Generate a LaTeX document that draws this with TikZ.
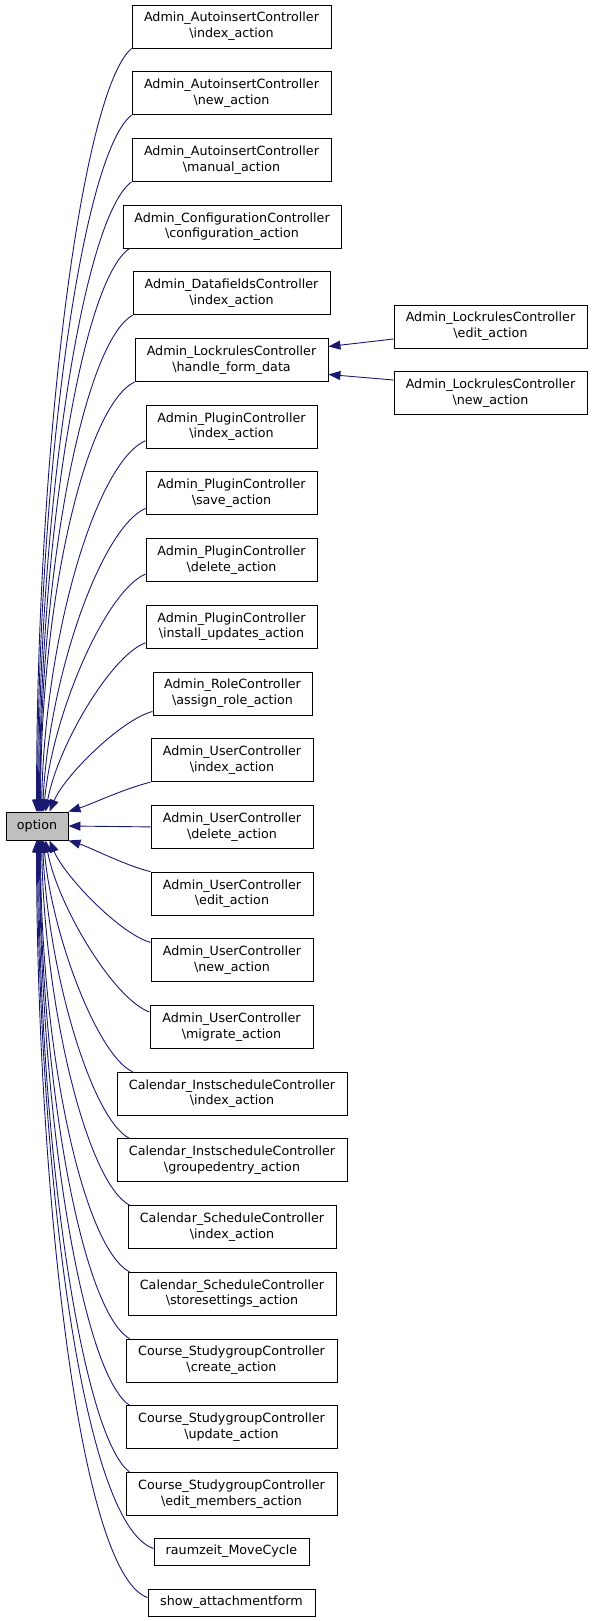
\documentclass[tikz,border=0pt]{standalone}
\usepackage{fontspec}
\setmainfont{DejaVu Sans}
\usetikzlibrary{arrows.meta,calc}
\definecolor{edgeblue}{RGB}{25,25,112}
\definecolor{rootgray}{RGB}{191,191,191}
\newcommand{\lblfont}{\fontsize{12.7pt}{15.7pt}\selectfont}
\newcommand{\bs}{\textbackslash}
\begin{document}
\begin{tikzpicture}[x=1pt,y=-1pt,
  box/.style={draw=black, line width=0.9pt, fill=white, align=center, inner sep=0pt, font=\lblfont, minimum height=43pt},
  onebox/.style={box, minimum height=27pt},
  edge/.style={draw=edgeblue, line width=0.9pt, -{Triangle[length=12pt,width=9pt]}}]
\useasboundingbox (0,0) rectangle (592,1621);
% root
\node[onebox, fill=rootgray, minimum width=62pt, minimum height=28pt] (opt) at (37,826) {option};
% left column
\node[box, minimum width=199pt] (b0) at (231.5,26.5) {Admin\_AutoinsertController\\\bs index\_action};
\node[box, minimum width=199pt] (b1) at (231.5,93.2) {Admin\_AutoinsertController\\\bs new\_action};
\node[box, minimum width=199pt] (b2) at (231.5,159.9) {Admin\_AutoinsertController\\\bs manual\_action};
\node[box, minimum width=218pt] (b3) at (232,226.6) {Admin\_ConfigurationController\\\bs configuration\_action};
\node[box, minimum width=197pt] (b4) at (231.5,293.3) {Admin\_DatafieldsController\\\bs index\_action};
\node[box, minimum width=193pt] (b5) at (231.5,360) {Admin\_LockrulesController\\\bs handle\_form\_data};
\node[box, minimum width=171pt] (b6) at (231.5,426.7) {Admin\_PluginController\\\bs index\_action};
\node[box, minimum width=171pt] (b7) at (231.5,493.4) {Admin\_PluginController\\\bs save\_action};
\node[box, minimum width=171pt] (b8) at (231.5,560.1) {Admin\_PluginController\\\bs delete\_action};
\node[box, minimum width=171pt] (b9) at (231.5,626.8) {Admin\_PluginController\\\bs install\_updates\_action};
\node[box, minimum width=159pt] (b10) at (232.5,693.5) {Admin\_RoleController\\\bs assign\_role\_action};
\node[box, minimum width=162pt] (b11) at (232,760.2) {Admin\_UserController\\\bs index\_action};
\node[box, minimum width=162pt] (b12) at (232,826.9) {Admin\_UserController\\\bs delete\_action};
\node[box, minimum width=162pt] (b13) at (232,893.6) {Admin\_UserController\\\bs edit\_action};
\node[box, minimum width=162pt] (b14) at (232,960.3) {Admin\_UserController\\\bs new\_action};
\node[box, minimum width=163pt] (b15) at (231.5,1027) {Admin\_UserController\\\bs migrate\_action};
\node[box, minimum width=230pt] (b16) at (232,1093.7) {Calendar\_InstscheduleController\\\bs index\_action};
\node[box, minimum width=230pt] (b17) at (232,1160.4) {Calendar\_InstscheduleController\\\bs groupedentry\_action};
\node[box, minimum width=208pt] (b18) at (232,1227.1) {Calendar\_ScheduleController\\\bs index\_action};
\node[box, minimum width=208pt] (b19) at (232,1293.8) {Calendar\_ScheduleController\\\bs storesettings\_action};
\node[box, minimum width=211pt] (b20) at (231.5,1360.5) {Course\_StudygroupController\\\bs create\_action};
\node[box, minimum width=211pt] (b21) at (231.5,1427.2) {Course\_StudygroupController\\\bs update\_action};
\node[box, minimum width=211pt] (b22) at (231.5,1493.9) {Course\_StudygroupController\\\bs edit\_members\_action};
\node[onebox, minimum width=155pt] (b23) at (231.5,1551.5) {raumzeit\_MoveCycle};
\node[onebox, minimum width=167pt] (b24) at (231.5,1602.5) {show\_attachmentform};
% right column
\node[box, minimum width=193pt] (r1) at (490.5,326.5) {Admin\_LockrulesController\\\bs edit\_action};
\node[box, minimum width=193pt] (r2) at (490.5,393) {Admin\_LockrulesController\\\bs new\_action};
% upper edges
\draw[edge] (b0.south west) .. controls +(-49,42) and +(0,-375) .. ($(opt.north west)+(31,0)$);
\draw[edge] (b1.south west) .. controls +(-49,38) and +(0,-343) .. ($(opt.north west)+(32,0)$);
\draw[edge] (b2.south west) .. controls +(-48,35) and +(0,-310) .. ($(opt.north west)+(33,0)$);
\draw[edge] ($(b3.south west)+(7,0)$) .. controls +(-47,31) and +(0,-276) .. ($(opt.north west)+(34,0)$);
\draw[edge] (b4.south west) .. controls +(-48,27) and +(0,-245) .. ($(opt.north west)+(34.5,0)$);
\draw[edge] (b5.south west) .. controls +(-49,24) and +(0,-212) .. ($(opt.north west)+(35,0)$);
\draw[edge] ($(b6.south west)+(0,-8)$) .. controls +(-50,22) and +(3,-173) .. ($(opt.north west)+(36,0)$);
\draw[edge] ($(b7.south west)+(0,-7)$) .. controls +(-45,20) and +(6,-133) .. ($(opt.north west)+(37,0)$);
\draw[edge] ($(b8.south west)+(0,-8)$) .. controls +(-40,17) and +(9,-98) .. ($(opt.north west)+(38,0)$);
\draw[edge] ($(b9.south west)+(0,-6)$) .. controls +(-35,13) and +(12,-65) .. ($(opt.north west)+(40,0)$);
\draw[edge] ($(b10.south west)+(0,-4)$) .. controls +(-31,8) and +(15,-36) .. ($(opt.north west)+(44,0)$);
\draw[edge] (b11.south west) .. controls +(-25,6) and +(22,-7) .. (opt.north east);
\draw[edge] (b12.west) -- (opt.east);
\draw[edge] (b13.north west) .. controls +(-25,-6) and +(22,7) .. (opt.south east);
% lower edges
\draw[edge] ($(b14.north west)+(0,4)$) .. controls +(-30,-8) and +(15,36) .. ($(opt.south west)+(44,0)$);
\draw[edge] ($(b15.north west)+(0,7)$) .. controls +(-36,-13) and +(12,65) .. ($(opt.south west)+(40,0)$);
\draw[edge] ($(b16.north west)+(16,0)$) .. controls +(-35,-16) and +(8,94) .. ($(opt.south west)+(38,0)$);
\draw[edge] ($(b17.north west)+(13,0)$) .. controls +(-38,-19) and +(5,130) .. ($(opt.south west)+(37,0)$);
\draw[edge] ($(b18.north west)+(2,0)$) .. controls +(-42,-22) and +(3,169) .. ($(opt.south west)+(36,0)$);
\draw[edge] ($(b19.north west)+(2,0)$) .. controls +(-46,-24) and +(0,212) .. ($(opt.south west)+(35,0)$);
\draw[edge] ($(b20.north west)+(4,0)$) .. controls +(-47,-27) and +(0,245) .. ($(opt.south west)+(34.5,0)$);
\draw[edge] ($(b21.north west)+(4,0)$) .. controls +(-47,-31) and +(0,277) .. ($(opt.south west)+(34,0)$);
\draw[edge] ($(b22.north west)+(4,0)$) .. controls +(-47,-35) and +(0,310) .. ($(opt.south west)+(33,0)$);
\draw[edge] ($(b23.west)+(0,-3)$) .. controls +(-75,-25) and +(0,300) .. ($(opt.south west)+(32,0)$);
\draw[edge] ($(b24.west)+(0,-5)$) .. controls +(-72,-25) and +(0,320) .. ($(opt.south west)+(31,0)$);
% right edges
\draw[edge] ($(r1.west)+(0,12.5)$) -- ($(b5.east)+(0,-13.5)$);
\draw[edge] ($(r2.west)+(0,-13)$) -- ($(b5.east)+(0,14.5)$);
\end{tikzpicture}
\end{document}
